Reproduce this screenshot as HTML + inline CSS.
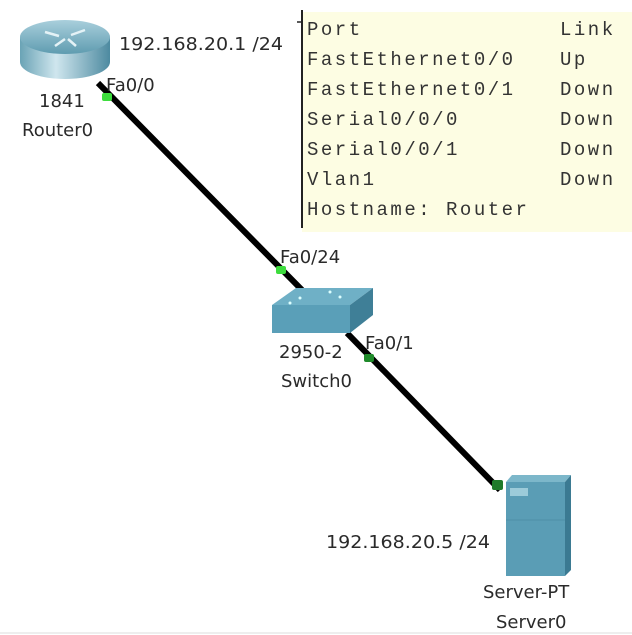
<!DOCTYPE html>
<html><head><style>
html,body{margin:0;padding:0;background:#fff;}
svg{display:block;}
.l{font-family:"DejaVu Sans","Liberation Sans",sans-serif;font-size:18px;fill:#2a2a2a;}
.m{font-family:"Liberation Mono",monospace;font-size:19px;fill:#333;letter-spacing:2.5px;}
</style></head><body>
<svg width="632" height="635" viewBox="0 0 632 635" xmlns="http://www.w3.org/2000/svg">
<defs>
<linearGradient id="rb" x1="0" x2="1"><stop offset="0" stop-color="#6aa3b5"/><stop offset="0.4" stop-color="#cfe6ee"/><stop offset="1" stop-color="#4d8aa0"/></linearGradient>
<linearGradient id="rt" x1="0" y1="0" x2="0" y2="1"><stop offset="0" stop-color="#a9cfdc"/><stop offset="1" stop-color="#5f9cb0"/></linearGradient>
</defs>
<rect x="0" y="0" width="632" height="635" fill="#fff"/>
<rect x="302" y="12" width="330" height="220" fill="#fdfde3"/>
<line x1="302" y1="10" x2="302" y2="228" stroke="#222" stroke-width="2"/>
<line x1="297" y1="22" x2="302" y2="22" stroke="#222" stroke-width="1.5"/>
<g class="m">
<text x="307" y="35">Port</text><text x="560" y="35">Link</text>
<text x="307" y="65">FastEthernet0/0</text><text x="560" y="65">Up</text>
<text x="307" y="95">FastEthernet0/1</text><text x="560" y="95">Down</text>
<text x="307" y="125">Serial0/0/0</text><text x="560" y="125">Down</text>
<text x="307" y="155">Serial0/0/1</text><text x="560" y="155">Down</text>
<text x="307" y="185">Vlan1</text><text x="560" y="185">Down</text>
<text x="307" y="215">Hostname: Router</text>
</g>
<line x1="98" y1="83" x2="302" y2="290" stroke="#000" stroke-width="6"/>
<line x1="347" y1="333" x2="500" y2="490" stroke="#000" stroke-width="6"/>
<path d="M20 37 L20 62 A45 17 0 0 0 110 62 L110 37 Z" fill="url(#rb)"/>
<ellipse cx="65" cy="37" rx="45" ry="17" fill="url(#rt)"/>
<path d="M45 32 l14 4 M85 30 l-14 5 M55 46 l10 -7 M76 46 l-8 -7" stroke="#e4f2f6" stroke-width="2.5"/>
<polygon points="272,305 296,288 373,288 350,305" fill="#6fb0c6"/>
<rect x="272" y="305" width="78" height="28" fill="#5a9fb8"/>
<polygon points="350,305 373,288 373,315 350,333" fill="#3f7f97"/>
<circle cx="300" cy="298" r="1.5" fill="#dff"/><circle cx="330" cy="292" r="1.5" fill="#dff"/><circle cx="290" cy="303" r="1.5" fill="#dff"/><circle cx="340" cy="297" r="1.5" fill="#dff"/>
<polygon points="506,482 512,475 571,475 565,482" fill="#7cb7ca"/>
<rect x="506" y="482" width="59" height="94" fill="#5a9db5"/>
<polygon points="565,482 571,475 571,570 565,576" fill="#3b7a92"/>
<rect x="510" y="488" width="18" height="8" fill="#9ccbd9"/>
<line x1="506" y1="520" x2="565" y2="520" stroke="#4d8ea6"/>
<rect x="102" y="93" width="10" height="8" rx="2" fill="#3ddc3d"/>
<rect x="276" y="266" width="10" height="8" rx="2" fill="#3ddc3d"/>
<rect x="364" y="354" width="10" height="8" rx="2" fill="#1f8a2a"/>
<rect x="492" y="480" width="11" height="10" rx="2" fill="#1f7a2a"/>
<g class="l">
<text x="119" y="50" textLength="164" lengthAdjust="spacingAndGlyphs">192.168.20.1 /24</text>
<text x="106" y="91">Fa0/0</text>
<text x="39" y="107">1841</text>
<text x="22" y="136">Router0</text>
<text x="280" y="263">Fa0/24</text>
<text x="279" y="358">2950-2</text>
<text x="365" y="349">Fa0/1</text>
<text x="281" y="387">Switch0</text>
<text x="326" y="548" textLength="164" lengthAdjust="spacingAndGlyphs">192.168.20.5 /24</text>
<text x="483" y="598">Server-PT</text>
<text x="496" y="628">Server0</text>
</g>
<line x1="0" y1="633" x2="632" y2="633" stroke="#eee" stroke-width="2"/>
</svg>
</body></html>
